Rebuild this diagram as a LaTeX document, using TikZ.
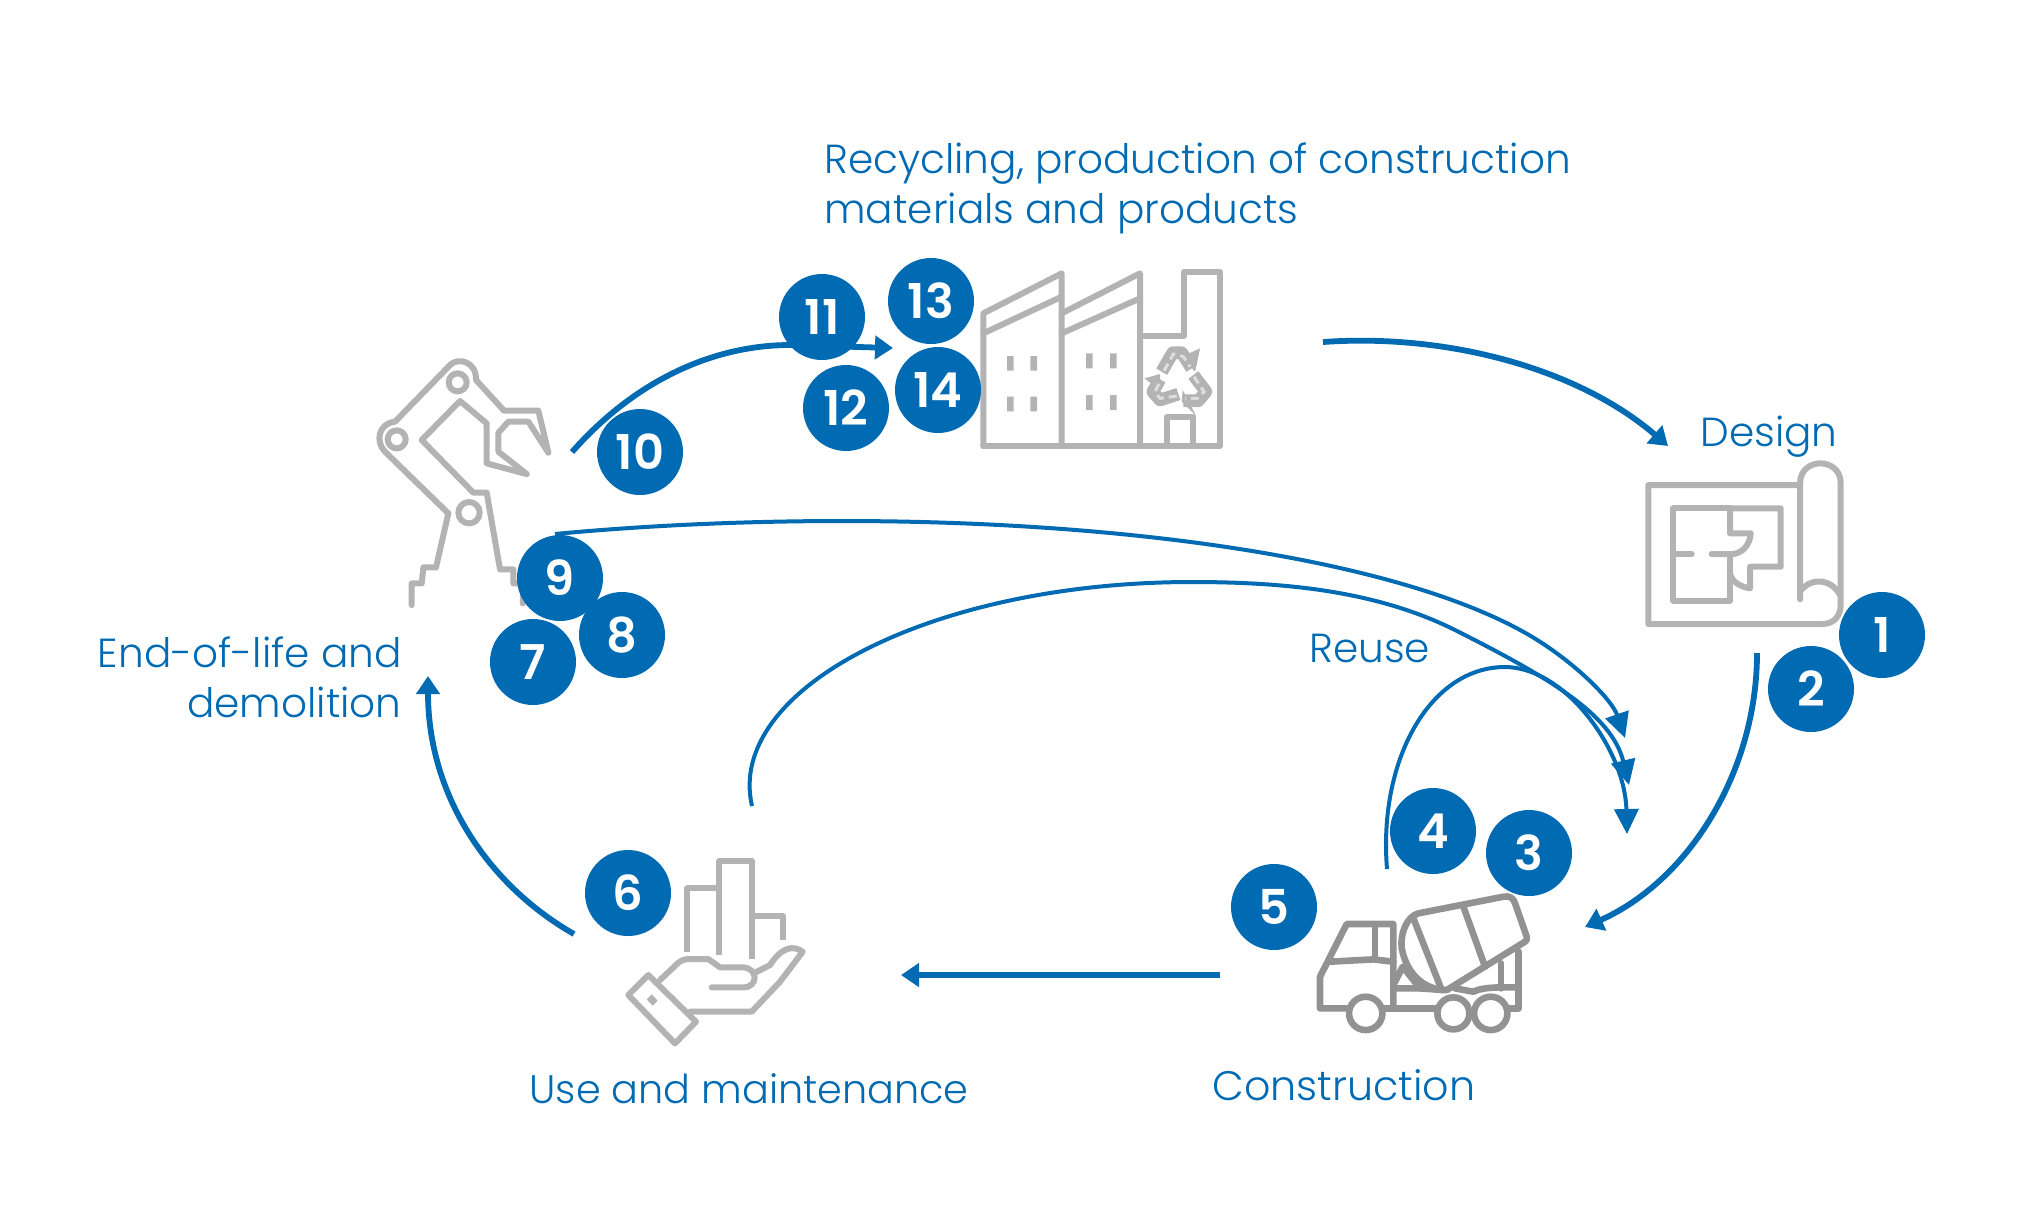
\documentclass[tikz,border=0pt]{standalone}
\usepackage{fontspec}
\setmainfont{Poppins}[UprightFont=* Light,BoldFont=* SemiBold]
\usetikzlibrary{arrows.meta}
\definecolor{lifeblue}{HTML}{006AB3}
\definecolor{icongray}{HTML}{B3B3B3}
\definecolor{truckgray}{HTML}{929292}
\definecolor{recyclegray}{HTML}{DDDDDD}
\tikzset{
  numdot/.style={circle,fill=lifeblue,text=white,minimum size=43pt,inner sep=0pt,font=\fontsize{24}{24}\selectfont\bfseries},
  phase/.style={text=lifeblue,inner sep=0pt,font=\fontsize{20.3}{25}\selectfont},
  bigarrow/.style={draw=lifeblue,line width=2.9pt,-{Triangle[length=9pt,width=11.5pt]}},
  thinarrow/.style={draw=lifeblue,line width=2pt,-{Triangle[length=12.5pt,width=12pt]}},
  icon/.style={draw=icongray,line width=3pt,line join=round,line cap=round},
  recyclingband/.style={draw=icongray,line width=6.3pt,line join=round},
  recyclingdash/.style={draw=recyclegray,line width=1.5pt,dash pattern=on 4pt off 2.5pt},
}
\begin{document}
\begin{tikzpicture}[x=0.5pt,y=-0.5pt]
  \useasboundingbox (0,0) rectangle (2032,1212);
  % Roboter
  \begin{scope}[shift={(350,340)},x=0.1667pt,y=-0.1667pt]
    \draw[icon] (295,520) -- (105,335) .. controls (75,305) and (85,250) .. (135,245) -- (300,75)
      .. controls (325,50) and (380,65) .. (378,120) -- (462,212) -- (565,212) -- (595,338)
      -- (535,245) -- (475,245) -- (445,278) -- (445,335) -- (530,402) -- (410,370) -- (410,250)
      -- (330,183) -- (215,300) -- (370,458) -- (410,458) -- (450,688) -- (490,688) -- (490,730) -- (520,730) -- (518,790);
    \draw[icon] (295,520) -- (258,682) -- (220,682) -- (215,730) -- (185,730) -- (185,795);
    \draw[icon] (323,127) circle (27);
    \draw[icon] (140,298) circle (27);
    \draw[icon] (357,518) circle (32);
  \end{scope}
  % Fabrik
  \begin{scope}[shift={(960,250)},x=0.1667pt,y=-0.1667pt]
    \draw[icon] (70,588) -- (70,190) -- (305,70) -- (305,588);
    \draw[icon] (70,250) -- (305,140);
    \draw[icon] (305,190) -- (540,70) -- (540,588);
    \draw[icon] (305,250) -- (540,145);
    \draw[icon] (70,588) -- (780,588) -- (780,65) -- (672,65) -- (672,258) -- (545,258);
    \draw[icon] (620,588) -- (620,500) -- (700,500) -- (700,588);
    \fill[icongray] (141,318) rectangle (161,362) (211,318) rectangle (231,362);
    \fill[icongray] (141,440) rectangle (161,484) (211,440) rectangle (231,484);
    \fill[icongray] (378,310) rectangle (398,355) (450,310) rectangle (470,355);
    \fill[icongray] (378,435) rectangle (398,480) (450,435) rectangle (470,480);
    % Recycling-Zeichen
    \draw[recyclingband] (605,365) -- (638,308) -- (665,308) -- (695,355);
    \draw[recyclingband] (700,375) -- (738,425) -- (715,452) -- (670,452);
    \draw[recyclingband] (655,432) -- (600,450) -- (578,425) -- (600,388);
    \fill[icongray] (553,385) -- (600,372) -- (600,420) -- cycle;
    \fill[icongray] (720,295) -- (665,320) -- (705,365) -- cycle;
    \fill[icongray] (708,497) -- (665,455) -- (668,420) -- cycle;
    \draw[recyclingdash] (612,362) -- (640,312) -- (670,320) -- (690,350);
    \draw[recyclingdash] (702,380) -- (732,425) -- (712,445) -- (675,445);
    \draw[recyclingdash] (650,438) -- (600,445) -- (585,425) -- (600,395);
  \end{scope}
  % Bauplan
  \begin{scope}[shift={(1630,450)},x=0.1667pt,y=-0.1667pt]
    \draw[icon] (510,105) -- (55,105) -- (55,522) -- (575,522) .. controls (615,522) and (632,495) .. (632,462)
      -- (632,100) .. controls (632,20) and (510,20) .. (510,100) -- (510,448);
    \draw[icon] (510,425) .. controls (535,385) and (600,380) .. (630,435);
    \draw[icon] (300,175) -- (130,175) -- (130,452) -- (300,452) -- (300,315);
    \draw[icon] (300,175) -- (452,175) -- (452,350) -- (360,350) -- (360,415) .. controls (330,410) and (305,395) .. (300,370);
    \draw[icon] (300,175) -- (300,250) -- (362,250) .. controls (360,285) and (335,312) .. (305,312) -- (245,312);
    \draw[icon] (130,312) -- (185,312);
  \end{scope}
  % Betonmischer
  \begin{scope}[shift={(1300,880)},x=0.1667pt,y=-0.1667pt,icon/.append style={draw=truckgray,line width=3.3pt}]
    \draw[icon] (140,385) -- (60,385) -- (60,290) -- (140,132) -- (280,132) -- (280,380);
    \draw[icon] (225,135) -- (225,235);
    \draw[icon] (90,245) -- (220,238) -- (280,245);
    \draw[icon] (250,385) -- (410,385);
    \draw[icon] (625,385) -- (655,385) -- (655,215);
    \draw[icon] (280,325) -- (360,325) -- (430,330);
    \draw[icon] (280,315) -- (308,260) -- (360,325);
    \draw[icon] (355,100) -- (610,50) .. controls (630,46) and (640,55) .. (645,70) -- (680,170) .. controls (682,178) and (680,182) .. (670,188) -- (440,330)
      .. controls (370,330) and (320,280) .. (305,205) .. controls (300,160) and (320,110) .. (355,100);
    \draw[icon] (340,115) -- (425,330);
    \draw[icon] (490,80) -- (555,260);
    \draw[icon] (603,250) -- (603,325);
    \draw[icon] (465,325) -- (520,335) .. controls (550,320) and (600,322) .. (650,322);
    \draw[icon] (197,400) circle (50);
    \draw[icon] (460,400) circle (48);
    \draw[icon] (572,400) circle (50);
  \end{scope}
  % Hand
  \begin{scope}[shift={(610,840)},x=0.1667pt,y=-0.1667pt]
    \draw[icon,line cap=butt] (232,335) -- (232,145) -- (328,145);
    \draw[icon,line cap=butt] (328,345) -- (328,62) -- (425,62) -- (425,358);
    \draw[icon,line cap=butt] (425,228) -- (518,228) -- (518,300);
    \draw[icon] (115,405) -- (258,545) -- (195,610) -- (55,465) -- cycle;
    \fill[icongray] (110,478) -- (125,463) -- (143,482) -- (128,497) -- cycle;
    \draw[icon] (150,420) -- (205,368) .. controls (215,360) and (225,357) .. (240,357) -- (295,357) -- (330,382) -- (400,382)
      .. controls (445,385) and (445,442) .. (400,442) -- (305,442);
    \draw[icon] (240,515) -- (425,515) -- (510,425) -- (578,335) .. controls (550,315) and (515,320) .. (480,375) -- (435,398);
  \end{scope}
  % Pfeile
  \coordinate (fabrikaus) at (1323,342);
  \coordinate (plan) at (1668,446);
  \coordinate (planaus) at (1757,653);
  \coordinate (misch) at (1585,927);
  \coordinate (mischaus) at (1220,975);
  \coordinate (nutz) at (901,975);
  \coordinate (nutzaus) at (574,934);
  \coordinate (abbruch) at (428,676);
  \coordinate (abbruchaus) at (572,452);
  \coordinate (bogen) at (790,345);
  \coordinate (fabrik) at (893,348);
  \coordinate (zurueckA) at (555,534);
  \coordinate (spitzeA) at (842,521);
  \coordinate (mitteA) at (1529,635);
  \coordinate (zielA) at (1625,738);
  \coordinate (zurueckB) at (752,806);
  \coordinate (spitzeB) at (1192,582);
  \coordinate (mitteB) at (1457,631);
  \coordinate (zielB) at (1629,785);
  \coordinate (zurueckC) at (1387,869);
  \coordinate (spitzeC) at (1505,667);
  \coordinate (zielC) at (1627,834);
  \draw[bigarrow] (fabrikaus) .. controls (1450,333) and (1580,370) .. (plan);
  \draw[bigarrow] (planaus) .. controls (1757,770) and (1690,880) .. (misch);
  \draw[bigarrow] (mischaus) -- (nutz);
  \draw[bigarrow] (nutzaus) .. controls (488,885) and (428,795) .. (abbruch);
  \draw[bigarrow] (abbruchaus) .. controls (640,375) and (720,345) .. (bogen) -- (fabrik);
  \draw[thinarrow] (zurueckA) .. controls (650,525) and (750,521) .. (spitzeA) .. controls (1130,521) and (1400,560) .. (mitteA) .. controls (1575,662) and (1612,700) .. (zielA);
  \draw[thinarrow] (zurueckB) .. controls (725,690) and (930,582) .. (spitzeB) .. controls (1290,582) and (1380,592) .. (mitteB) .. controls (1550,678) and (1612,715) .. (zielB);
  \draw[thinarrow] (zurueckC) .. controls (1378,760) and (1430,667) .. (spitzeC) .. controls (1565,667) and (1625,750) .. (zielC);
  % Nummern
  \node[numdot] (n1) at (1882,635) {1};
  \node[numdot] (n2) at (1811,689) {2};
  \node[numdot] (n3) at (1529,853) {3};
  \node[numdot] (n4) at (1433,831) {4};
  \node[numdot] (n5) at (1274,907) {5};
  \node[numdot] (n6) at (628,893) {6};
  \node[numdot] (n7) at (533,662) {7};
  \node[numdot] (n8) at (622,635) {8};
  \node[numdot] (n9) at (560,578) {9};
  \node[numdot] (n10) at (640,452) {10};
  \node[numdot] (n11) at (822,317) {11};
  \node[numdot] (n12) at (846,408) {12};
  \node[numdot] (n13) at (931,301) {13};
  \node[numdot] (n14) at (938,390) {14};
  % Beschriftungen
  \node[phase,anchor=base west,align=left] (recycling) at (824,223) {Recycling, production of construction\\materials and products};
  \node[phase,anchor=base west] (design) at (1700,446) {Design};
  \node[phase,anchor=base west] (reuse) at (1309,662) {Reuse};
  \node[phase,anchor=base east,align=right] (demolition) at (402,717) {End-of-life and\\demolition};
  \node[phase,anchor=base west,font=\fontsize{19.9}{25}\selectfont] (use) at (529,1103) {Use and maintenance};
  \node[phase,anchor=base west,font=\fontsize{20.6}{25}\selectfont] (construction) at (1212,1100) {Construction};
\end{tikzpicture}
\end{document}
